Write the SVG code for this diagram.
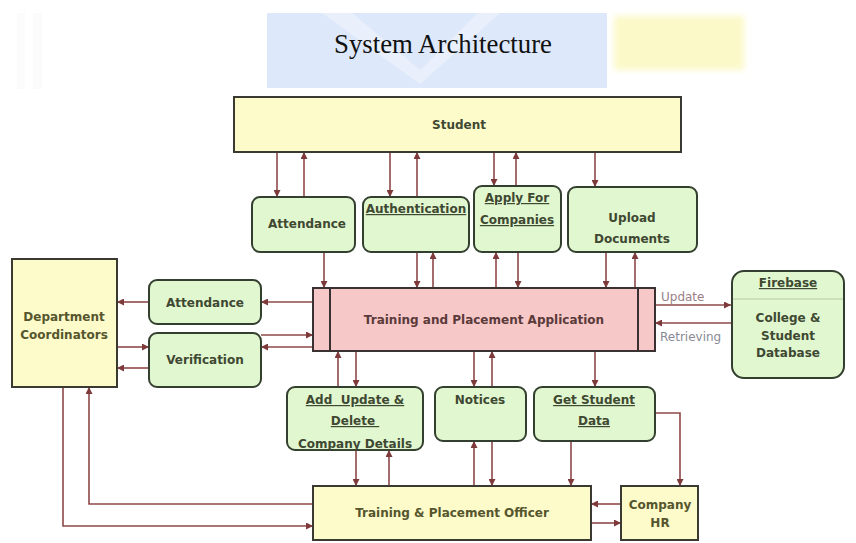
<svg xmlns="http://www.w3.org/2000/svg" width="856" height="543" viewBox="0 0 856 543">
  <style>
    .yel { fill: #fdfbc9; stroke: #3a3a32; stroke-width: 2; }
    .grn { fill: #e1f7cf; stroke: #34402f; stroke-width: 2; }
    .pnk { fill: #f7c8c8; stroke: #3a3232; stroke-width: 2; }
    .lbl { font-family: "DejaVu Sans", Verdana, sans-serif; font-size: 12px; font-weight: bold; fill: #3e4832; text-anchor: middle; }
    .u { text-decoration: underline; }
    .conn path { fill: none; stroke: #8e4848; stroke-width: 1.6; marker-end: url(#ah); }
    .note { font-family: "DejaVu Sans", Verdana, sans-serif; font-size: 12px; fill: #8a8a96; }
  </style>
  <defs>
    <marker id="ah" viewBox="0 0 8 8" refX="8" refY="4" markerWidth="7" markerHeight="7" markerUnits="userSpaceOnUse" orient="auto">
      <path d="M0,0 L8,4 L0,8 z" fill="#7e3a3a"/>
    </marker>
    <filter id="soft" x="-10%" y="-20%" width="120%" height="140%">
      <feGaussianBlur stdDeviation="3"/>
    </filter>
  </defs>

  <rect width="856" height="543" fill="#ffffff"/>

  <!-- title banner -->
  <g id="title">
    <rect x="17" y="13" width="8" height="76" fill="#fbfbfb"/>
    <rect x="33" y="13" width="9" height="76" fill="#fbfbfb"/>
    <rect x="267" y="13" width="340" height="75" fill="#dde8fa"/>
    <polygon points="322,13 352,13 420,70 478,13 500,13 420,84" fill="#ffffff" opacity="0.35"/>
    <rect x="614" y="16" width="130" height="54" fill="#fbf9c8" filter="url(#soft)"/>
    <text x="443" y="53" font-family="Liberation Serif, serif" font-size="26.5" fill="#111" text-anchor="middle" textLength="218" lengthAdjust="spacingAndGlyphs">System Architecture</text>
  </g>

  <!-- connectors -->
  <g id="connectors" class="conn">
    <!-- Student and the upper modules -->
    <path d="M277,152 V197"/>
    <path d="M304,197 V152"/>
    <path d="M390,152 V197"/>
    <path d="M417,197 V152"/>
    <path d="M494,152 V186"/>
    <path d="M516,186 V152"/>
    <path d="M595,152 V187"/>
    <!-- upper modules and the application -->
    <path d="M324,252 V288"/>
    <path d="M417,252 V288"/>
    <path d="M433,288 V252"/>
    <path d="M496,288 V252"/>
    <path d="M518,252 V288"/>
    <path d="M606,252 V288"/>
    <path d="M635,288 V252"/>
    <!-- application and database -->
    <path d="M655,305 H731"/>
    <path d="M731,323 H655"/>
    <!-- application, left modules, coordinators -->
    <path d="M313,302 H261"/>
    <path d="M149,302 H117"/>
    <path d="M117,347 H149"/>
    <path d="M149,368 H117"/>
    <path d="M261,335 H313"/>
    <path d="M313,347 H261"/>
    <!-- application and lower modules -->
    <path d="M338,387 V351"/>
    <path d="M356,351 V387"/>
    <path d="M474,351 V387"/>
    <path d="M492,387 V351"/>
    <path d="M595,351 V387"/>
    <!-- lower modules and the officer -->
    <path d="M356,450 V486"/>
    <path d="M389,486 V450"/>
    <path d="M474,486 V441"/>
    <path d="M492,441 V486"/>
    <path d="M571,441 V486"/>
    <path d="M655,413 H680 V486"/>
    <!-- officer and company HR -->
    <path d="M621,504 H591"/>
    <path d="M591,523 H621"/>
    <!-- officer and coordinators -->
    <path d="M313,504 H89 V387"/>
    <path d="M63,387 V526 H313"/>
  </g>

  <g id="student">
    <rect class="yel" x="234" y="97" width="447" height="55"/>
    <text class="lbl" x="459" y="129">Student</text>
  </g>

  <g id="attendance-top">
    <rect class="grn" x="252" y="197" width="103" height="55" rx="8"/>
    <text class="lbl" x="307" y="228">Attendance</text>
  </g>

  <g id="authentication">
    <rect class="grn" x="363" y="197" width="106" height="55" rx="8"/>
    <text class="lbl u" x="416" y="213">Authentication</text>
  </g>

  <g id="apply-companies">
    <rect class="grn" x="474" y="186" width="87" height="66" rx="8"/>
    <text class="lbl u" x="517" y="202">Apply For</text>
    <text class="lbl u" x="517" y="224">Companies</text>
  </g>

  <g id="upload-documents">
    <rect class="grn" x="568" y="187" width="129" height="65" rx="8"/>
    <text class="lbl" x="632" y="222">Upload</text>
    <text class="lbl" x="632" y="243">Documents</text>
  </g>

  <g id="application">
    <rect class="pnk" x="313" y="288" width="342" height="63"/>
    <line x1="330" y1="288" x2="330" y2="351" stroke="#3a3232" stroke-width="2"/>
    <line x1="638" y1="288" x2="638" y2="351" stroke="#3a3232" stroke-width="2"/>
    <text class="lbl" x="484" y="324" style="fill:#5a3a3a">Training and Placement Application</text>
  </g>

  <g id="database">
    <rect class="grn" x="732" y="271" width="112" height="107" rx="12"/>
    <line x1="733" y1="299" x2="843" y2="299" stroke="#b8c8a8" stroke-width="1"/>
    <text class="lbl u" x="788" y="287">Firebase</text>
    <text class="lbl" x="788" y="322">College &amp;</text>
    <text class="lbl" x="788" y="340">Student</text>
    <text class="lbl" x="788" y="357">Database</text>
  </g>

  <g id="flow-labels">
    <text class="note" x="661" y="301" style="fill:#9a8088">Update</text>
    <text class="note" x="660" y="341">Retrieving</text>
  </g>

  <g id="coordinators">
    <rect class="yel" x="12" y="259" width="105" height="128"/>
    <text class="lbl" x="64" y="321" style="fill:#55552e">Department</text>
    <text class="lbl" x="64" y="339" style="fill:#55552e">Coordinators</text>
  </g>

  <g id="attendance-left">
    <rect class="grn" x="149" y="280" width="112" height="44" rx="8"/>
    <text class="lbl" x="205" y="307">Attendance</text>
  </g>

  <g id="verification">
    <rect class="grn" x="149" y="333" width="112" height="54" rx="8"/>
    <text class="lbl" x="205" y="364">Verification</text>
  </g>

  <g id="company-details">
    <rect class="grn" x="287" y="387" width="136" height="63" rx="8"/>
    <text class="lbl u" x="355" y="404" xml:space="preserve">Add  Update &amp;</text>
    <text class="lbl u" x="355" y="425" xml:space="preserve">Delete </text>
    <text class="lbl u" x="355" y="448">Company Details</text>
  </g>

  <g id="notices">
    <rect class="grn" x="435" y="387" width="91" height="54" rx="8"/>
    <text class="lbl" x="480" y="404">Notices</text>
  </g>

  <g id="student-data">
    <rect class="grn" x="534" y="387" width="121" height="54" rx="8"/>
    <text class="lbl u" x="594" y="404">Get Student</text>
    <text class="lbl u" x="594" y="425">Data</text>
  </g>

  <g id="officer">
    <rect class="yel" x="313" y="486" width="278" height="54"/>
    <text class="lbl" x="452" y="517" style="fill:#55552e">Training &amp; Placement Officer</text>
  </g>

  <g id="company-hr">
    <rect class="yel" x="621" y="486" width="77" height="54"/>
    <text class="lbl" x="660" y="509" style="fill:#55552e">Company</text>
    <text class="lbl" x="660" y="527" style="fill:#55552e">HR</text>
  </g>
</svg>
